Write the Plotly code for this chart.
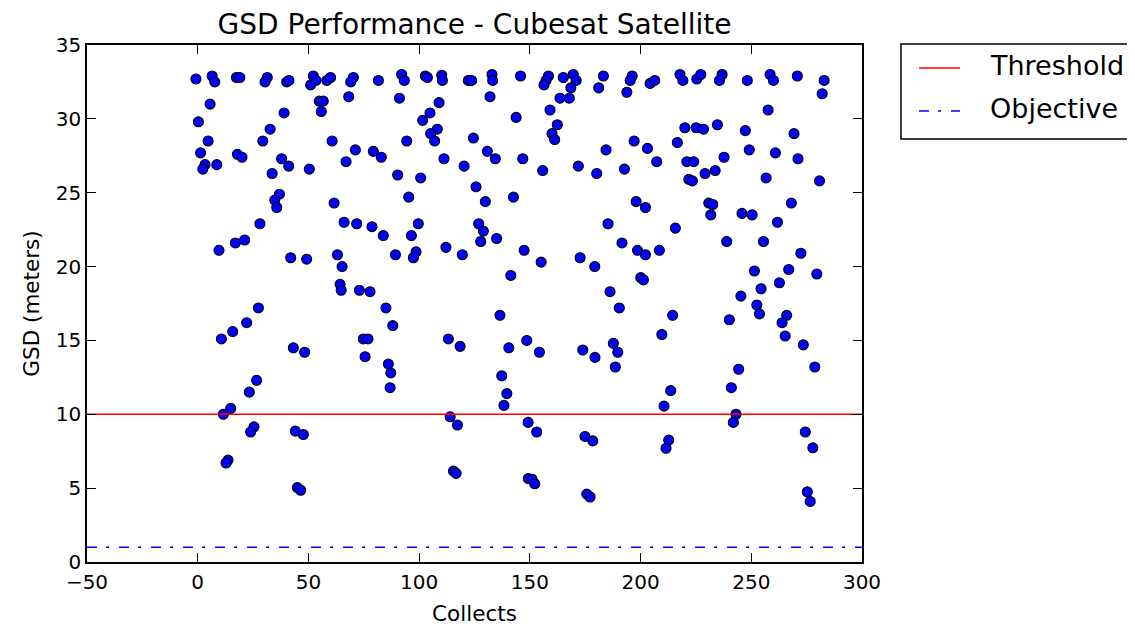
import plotly.graph_objects as go

# Collect index (x) and ground sample distance in metres (y)
collect_x = [
    -0.8, 6.5, 7.7, 17.5, 19.0, 31.4, 30.4, 40.2, 41.2, 52.2, 51.0, 53.4, 58.3, 60.0, 70.3, 69.1,
    5.6, 0.3, 4.7, 1.3, 3.3, 2.3, 8.6, 17.9, 20.0, 39.0, 32.7, 29.4, 37.9, 41.1, 33.6, 50.4,
    54.9, 56.7, 55.8, 68.2, 60.7, 71.2, 67.0, 36.9, 34.8, 35.7, 61.6, 28.1, 66.1, 71.8,
    9.6, 17.0, 21.2, 42.0, 49.2, 63.1, 65.2, 64.3, 64.8, 73.0, 27.4,
    22.1, 15.8, 10.7, 43.2, 48.3, 26.6, 23.3, 14.9, 11.6, 25.4, 23.9, 44.1, 47.7, 13.7, 12.8,
    45.0, 46.5,
    81.6, 92.1, 93.3, 102.8, 103.7, 110.2, 110.5, 122.2, 123.7, 132.9, 133.2, 145.8,
    91.1, 132.0, 109.0, 104.9, 101.6, 143.8, 108.2, 105.2, 107.0, 94.4, 124.5, 79.3, 82.9,
    111.2, 120.3, 130.8, 134.4, 146.8, 90.3, 100.7, 95.3, 125.7, 129.9, 142.6, 78.7, 83.8,
    99.6, 96.5, 98.6, 97.4, 89.3, 112.1, 119.5, 126.9, 129.0, 127.8, 135.0, 147.4, 141.4,
    77.8, 85.0, 136.5,
    88.1, 74.8, 76.9, 75.6, 86.1, 87.2, 86.9, 113.2, 118.5, 140.5, 148.6, 137.3, 139.6,
    138.3, 114.0, 117.3, 149.2, 115.5, 116.7, 149.3,
    158.4, 157.3, 156.4, 165.1, 169.6, 170.9, 168.5, 163.6, 167.8, 159.1, 162.4, 160.0,
    161.2, 183.2, 181.1, 196.2, 195.3, 193.8, 204.3, 206.4, 217.8, 219.1, 225.4,
    155.8, 184.4, 171.9, 180.2, 192.7, 197.1, 203.1, 207.3, 216.6, 220.0, 225.1, 220.9,
    224.0, 221.8, 223.4, 198.0, 202.2, 185.3, 215.7, 155.1, 172.7, 179.3, 191.6, 198.6,
    202.2, 208.5, 200.1, 201.3, 186.2, 190.4,
    214.5, 209.6, 154.3, 173.9, 179.4, 187.7, 189.7, 188.6, 213.6, 210.6, 153.1, 174.9,
    178.4, 212.7, 211.5, 151.0, 152.2, 175.7, 177.2,
    227.2, 236.8, 235.6, 248.2, 258.5, 260.0, 270.8, 282.9, 282.0, 257.6, 228.4, 234.7,
    247.3, 269.3, 249.1, 260.9, 237.7, 271.1, 229.1, 233.7, 256.7, 280.8, 230.8, 232.6,
    231.7, 245.8, 250.4, 268.1, 261.8, 238.9, 255.5, 272.4, 251.4, 266.9, 279.6, 262.7,
    254.4, 245.3, 252.5,
    253.7, 240.1, 266.0, 263.9, 265.3, 273.5, 278.7, 244.3, 241.0, 243.1, 241.9, 274.4,
    277.8, 275.3, 276.6,
]
gsd_m = [
    32.7, 32.9, 32.5, 32.8, 32.8, 32.8, 32.5, 32.5, 32.6, 32.9, 32.3, 32.6, 32.6, 32.8, 32.8, 32.5,
    31.0, 29.8, 28.5, 27.7, 26.9, 26.6, 26.9, 27.6, 27.4, 30.4, 29.3, 28.5, 27.3, 26.8, 26.3, 26.6,
    31.2, 31.2, 30.5, 31.5, 28.5, 27.9, 27.1, 24.9, 24.5, 24.0, 24.3, 22.9, 23.0, 22.9,
    21.1, 21.6, 21.8, 20.6, 20.5, 20.8, 20.0, 18.8, 18.4, 18.4, 17.2,
    16.2, 15.6, 15.1, 14.5, 14.2, 12.3, 11.5, 10.4, 10.0, 9.15, 8.8, 8.86, 8.63, 6.9, 6.7,
    5.04, 4.86,
    32.6, 33.0, 32.6, 32.9, 32.8, 32.95, 32.6, 32.6, 32.6, 33.0, 32.6, 32.9,
    31.4, 31.5, 31.1, 30.4, 29.9, 30.1, 29.3, 29.0, 28.5, 28.5, 28.7, 27.8, 27.4,
    27.3, 26.8, 27.8, 27.3, 27.3, 26.2, 26.0, 24.7, 25.4, 24.4, 24.7, 22.7, 22.1,
    22.9, 22.1, 21.0, 20.6, 20.8, 21.3, 20.8, 22.9, 22.4, 21.7, 21.9, 21.1, 19.4,
    18.3, 17.2, 16.7,
    16.0, 15.1, 15.1, 13.9, 13.4, 12.8, 11.8, 15.1, 14.6, 14.5, 15.0, 12.6, 11.4,
    10.6, 9.83, 9.27, 9.45, 6.15, 6.0, 5.65,
    32.9, 32.6, 32.3, 32.8, 33.0, 32.6, 32.1, 31.4, 31.4, 30.6, 29.6, 29.0,
    28.6, 32.9, 32.1, 32.9, 32.6, 31.8, 32.4, 32.6, 33.0, 32.6, 32.7,
    26.5, 27.9, 26.8, 26.3, 26.6, 28.5, 28.0, 27.1, 28.4, 29.4, 29.4, 27.1,
    27.1, 25.9, 25.8, 24.4, 24.0, 22.9, 22.6, 20.3, 20.6, 20.0, 21.6, 21.1,
    20.8, 21.1, 19.25, 19.1, 18.3, 17.2,
    16.7, 15.4, 14.2, 14.35, 13.85, 14.8, 14.2, 13.2, 11.6, 10.55, 8.8, 8.5,
    8.2, 8.25, 7.7, 5.6, 5.3, 4.6, 4.4,
    33.0, 33.0, 32.6, 32.6, 33.0, 32.6, 32.9, 32.6, 31.7, 30.6, 29.3, 29.6,
    29.2, 29.0, 27.9, 27.7, 27.4, 27.3, 26.3, 26.5, 26.0, 25.8, 24.3, 24.2,
    23.5, 23.6, 23.5, 24.3, 23.0, 21.7, 21.7, 20.9, 19.7, 19.8, 19.5, 18.9,
    18.5, 18.0, 17.4,
    16.8, 16.4, 16.7, 16.2, 15.3, 14.7, 13.2, 13.05, 11.8, 10.0, 9.45, 8.8,
    7.73, 4.75, 4.1,
]

threshold_gsd = 10
objective_gsd = 1
x_range = [-50, 300]
y_range = [0, 35]
legend_names = ["Threshold", "Objective"]
legend_colors = ["#ff0000", "#0000ff"]
legend_dashes = ["solid", "10px,9px,3px,10px"]

FONT = "DejaVu Sans"

fig = go.Figure()

fig.add_trace(go.Scatter(
    x=collect_x, y=gsd_m, mode="markers", showlegend=False,
    marker=dict(size=10, color="#0000ff", line=dict(color="black", width=1.1)),
    hoverinfo="x+y",
))
fig.add_trace(go.Scatter(
    x=x_range, y=[threshold_gsd, threshold_gsd], mode="lines", name=legend_names[0],
    showlegend=False, line=dict(color=legend_colors[0], width=1.5, dash=legend_dashes[0]),
))
fig.add_trace(go.Scatter(
    x=x_range, y=[objective_gsd, objective_gsd], mode="lines", name=legend_names[1],
    showlegend=False, line=dict(color=legend_colors[1], width=1.5, dash=legend_dashes[1]),
))

# Legend box drawn outside the plot area (matplotlib-style, bbox to the right)
shapes = [dict(type="rect", xref="paper", yref="paper", x0=1.0503, x1=1.349, y0=0.818, y1=1.002,
               line=dict(color="black", width=1.5), fillcolor="white", layer="above")]
annotations = []
legend_rows_y = [0.9555, 0.8723]
for name, col, dash, yy in zip(legend_names, legend_colors, legend_dashes, legend_rows_y):
    shapes.append(dict(type="line", xref="paper", yref="paper", x0=1.0735, x1=1.1265, y0=yy, y1=yy,
                       line=dict(color=col, width=1.5, dash=dash), layer="above"))
    annotations.append(dict(text=name, xref="paper", yref="paper", x=1.163, y=yy + 0.004,
                            xanchor="left", yanchor="middle", showarrow=False,
                            font=dict(family=FONT, size=27, color="black")))

axis_common = dict(
    showline=True, linecolor="black", linewidth=1.5, mirror="ticks",
    ticks="inside", ticklen=9, tickwidth=1, tickcolor="black",
    showgrid=False, zeroline=False, automargin=False,
    tickfont=dict(family=FONT, size=20, color="black"),
)

fig.update_layout(
    width=1135, height=630,
    margin=dict(l=79, r=281, t=37, b=76),
    paper_bgcolor="white", plot_bgcolor="white",
    font=dict(family=FONT, color="black"),
    showlegend=False,
    title=dict(text="GSD Performance - Cubesat Satellite", x=0.5, xref="paper",
               y=0.974, yref="container", yanchor="middle",
               font=dict(family=FONT, size=28, color="black")),
    xaxis=dict(range=x_range, dtick=50, tick0=0, ticklabelstandoff=1,
               title=dict(text="Collects", font=dict(family=FONT, size=21.5), standoff=13),
               **axis_common),
    yaxis=dict(range=y_range, dtick=5, tick0=0,
               title=dict(text="GSD (meters)", font=dict(family=FONT, size=21.5), standoff=10),
               **axis_common),
    shapes=shapes,
    annotations=annotations,
)

fig.write_html("out.html")
